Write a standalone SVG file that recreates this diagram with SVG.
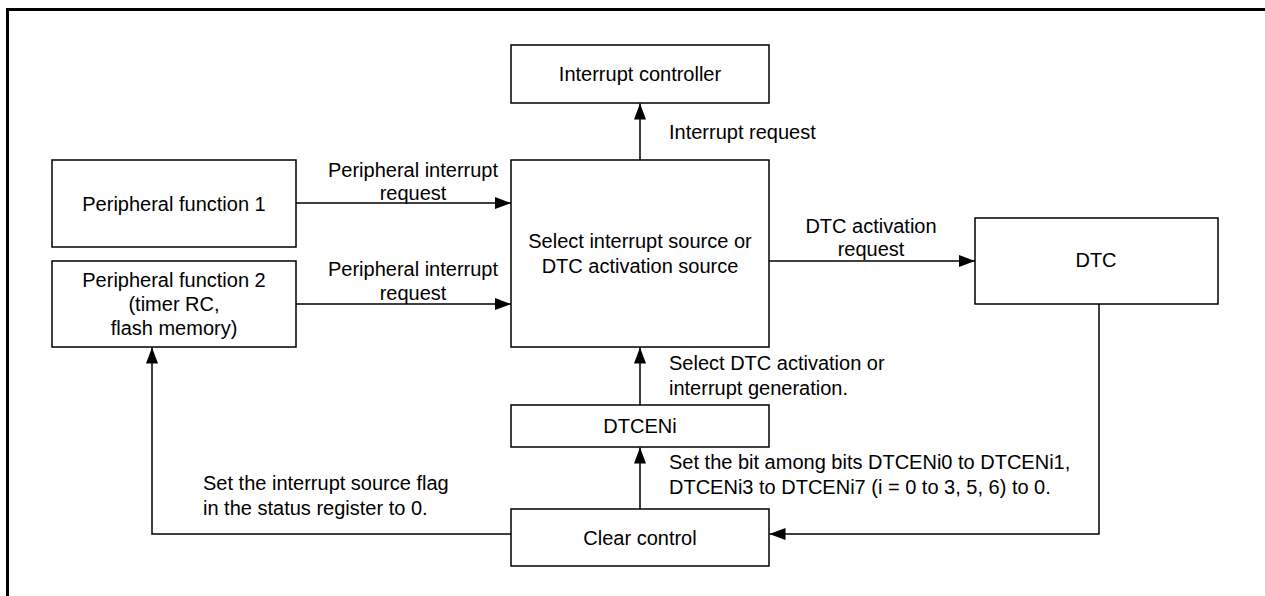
<svg xmlns="http://www.w3.org/2000/svg" width="1265" height="596" viewBox="0 0 1265 596">
<style>
.box{fill:#fff;stroke:#000;stroke-width:1.5}
.t{font-family:"Liberation Sans",Arial,sans-serif;font-size:20px;fill:#000}
.c{text-anchor:middle}
.ln{fill:none;stroke:#000;stroke-width:1.5}
</style>
<defs>
<marker id="ah" markerWidth="16" markerHeight="12" refX="16" refY="6" orient="auto" markerUnits="userSpaceOnUse">
<path d="M0,0 L16,6 L0,12 Z" fill="#000"/>
</marker>
</defs>
<rect x="7.5" y="9.5" width="1300" height="620" fill="none" stroke="#000" stroke-width="3"/>
<g id="connectors">
<line class="ln" x1="640" y1="160" x2="640" y2="103.5" marker-end="url(#ah)"/>
<line class="ln" x1="296" y1="203" x2="511" y2="203" marker-end="url(#ah)"/>
<line class="ln" x1="296" y1="304" x2="511" y2="304" marker-end="url(#ah)"/>
<line class="ln" x1="769" y1="261" x2="975" y2="261" marker-end="url(#ah)"/>
<line class="ln" x1="640" y1="405" x2="640" y2="347.5" marker-end="url(#ah)"/>
<line class="ln" x1="640" y1="509" x2="640" y2="447.5" marker-end="url(#ah)"/>
<polyline class="ln" points="1099,304 1099,534 769.5,534" marker-end="url(#ah)"/>
<polyline class="ln" points="511,534 152,534 152,347.5" marker-end="url(#ah)"/>
<text class="t" x="669" y="139">Interrupt request</text>
<text class="t c" x="413" y="177">Peripheral interrupt</text>
<text class="t c" x="413" y="200">request</text>
<text class="t c" x="413" y="276">Peripheral interrupt</text>
<text class="t c" x="413" y="300">request</text>
<text class="t c" x="871" y="233">DTC activation</text>
<text class="t c" x="871" y="256">request</text>
<text class="t" x="669" y="370">Select DTC activation or</text>
<text class="t" x="669" y="395">interrupt generation.</text>
<text class="t" x="669" y="469">Set the bit among bits DTCENi0 to DTCENi1,</text>
<text class="t" x="669" y="494">DTCENi3 to DTCENi7 (i = 0 to 3, 5, 6) to 0.</text>
<text class="t" x="203" y="490">Set the interrupt source flag</text>
<text class="t" x="203" y="515">in the status register to 0.</text>
</g>
<g id="interrupt-controller">
<rect class="box" x="511" y="45" width="258" height="58"/>
<text class="t c" x="640" y="81">Interrupt controller</text>
</g>
<g id="peripheral-function-1">
<rect class="box" x="52" y="160" width="244" height="87"/>
<text class="t c" x="174" y="211">Peripheral function 1</text>
</g>
<g id="peripheral-function-2">
<rect class="box" x="52" y="261" width="244" height="86"/>
<text class="t c" x="174" y="287">Peripheral function 2</text>
<text class="t c" x="174" y="311">(timer RC,</text>
<text class="t c" x="174" y="335">flash memory)</text>
</g>
<g id="select">
<rect class="box" x="511" y="160" width="258" height="187"/>
<text class="t c" x="640" y="248">Select interrupt source or</text>
<text class="t c" x="640" y="273">DTC activation source</text>
</g>
<g id="dtc">
<rect class="box" x="975" y="218" width="243" height="86"/>
<text class="t c" x="1096" y="267">DTC</text>
</g>
<g id="dtceni">
<rect class="box" x="511" y="405" width="258" height="42"/>
<text class="t c" x="640" y="433">DTCENi</text>
</g>
<g id="clear-control">
<rect class="box" x="511" y="509" width="258" height="57"/>
<text class="t c" x="640" y="545">Clear control</text>
</g>
</svg>
